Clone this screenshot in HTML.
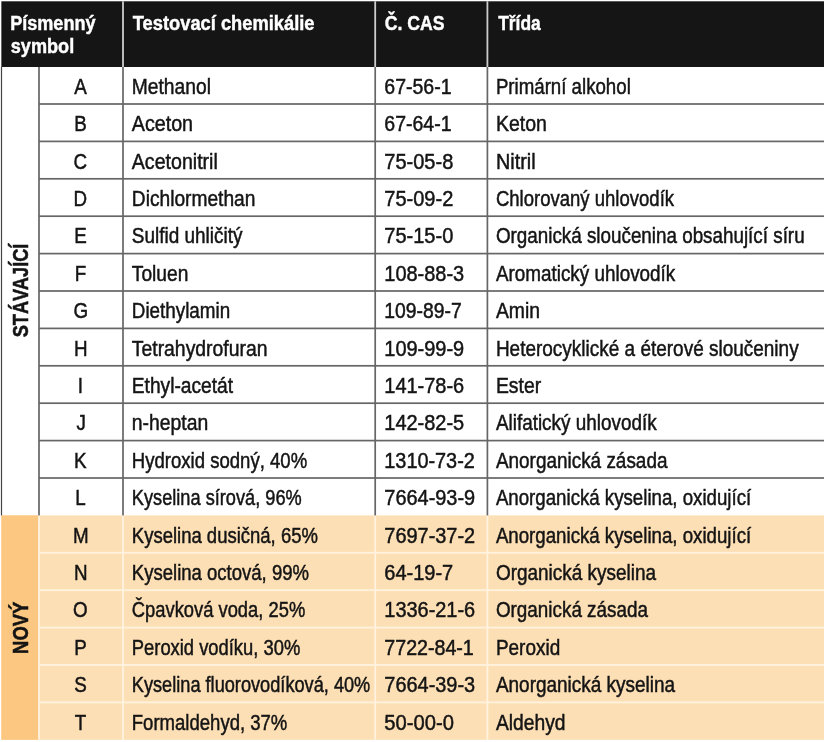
<!DOCTYPE html><html><head><meta charset="utf-8"><style>html,body{margin:0;padding:0;background:#fff;width:825px;height:742px;overflow:hidden}</style></head><body><svg width="825" height="742" viewBox="0 0 825 742" style="display:block;will-change:transform">
<rect x="0" y="0" width="825" height="742" fill="#fff"/>
<rect x="1.35" y="1.3" width="822.65" height="65.7" fill="#151515"/>
<rect x="122.1" y="1.3" width="1.8" height="65.7" fill="#cccccc"/>
<rect x="374.3" y="1.3" width="1.8" height="65.7" fill="#cccccc"/>
<rect x="486.5" y="1.3" width="1.8" height="65.7" fill="#cccccc"/>
<rect x="1.35" y="515.40" width="822.65" height="224.40" fill="#fddfb5"/>
<rect x="1.35" y="515.40" width="37.65" height="224.40" fill="#fcc780"/>
<rect x="38.1" y="515.40" width="1.8" height="224.40" fill="#fff3e0"/>
<rect x="122.1" y="515.40" width="1.8" height="224.40" fill="#fff3e0"/>
<rect x="374.3" y="515.40" width="1.8" height="224.40" fill="#fff3e0"/>
<rect x="486.5" y="515.40" width="1.8" height="224.40" fill="#fff3e0"/>
<rect x="39" y="551.90" width="785" height="1.8" fill="#fff3e0"/>
<rect x="39" y="589.30" width="785" height="1.8" fill="#fff3e0"/>
<rect x="39" y="626.70" width="785" height="1.8" fill="#fff3e0"/>
<rect x="39" y="664.10" width="785" height="1.8" fill="#fff3e0"/>
<rect x="39" y="701.50" width="785" height="1.8" fill="#fff3e0"/>
<rect x="39" y="103.15" width="785" height="1.7" fill="#666666"/>
<rect x="39" y="140.55" width="785" height="1.7" fill="#666666"/>
<rect x="39" y="177.95" width="785" height="1.7" fill="#666666"/>
<rect x="39" y="215.35" width="785" height="1.7" fill="#666666"/>
<rect x="39" y="252.75" width="785" height="1.7" fill="#666666"/>
<rect x="39" y="290.15" width="785" height="1.7" fill="#666666"/>
<rect x="39" y="327.55" width="785" height="1.7" fill="#666666"/>
<rect x="39" y="364.95" width="785" height="1.7" fill="#666666"/>
<rect x="39" y="402.35" width="785" height="1.7" fill="#666666"/>
<rect x="39" y="439.75" width="785" height="1.7" fill="#666666"/>
<rect x="39" y="477.15" width="785" height="1.7" fill="#666666"/>
<rect x="38.15" y="67" width="1.7" height="448.40" fill="#666666"/>
<rect x="122.15" y="67" width="1.7" height="448.40" fill="#666666"/>
<rect x="374.34999999999997" y="67" width="1.7" height="448.40" fill="#666666"/>
<rect x="486.54999999999995" y="67" width="1.7" height="448.40" fill="#666666"/>
<rect x="0.9" y="67" width="1.2" height="448.40" fill="#444444"/>
<text transform="translate(74.30,93.70) scale(0.8400,1)" font-family="Liberation Sans" font-size="22.4" font-weight="400" fill="#141414" stroke="#141414" stroke-width="0.5" text-anchor="start">A</text>
<text transform="translate(131.80,93.70) scale(0.8592,1)" font-family="Liberation Sans" font-size="22.4" font-weight="400" fill="#141414" stroke="#141414" stroke-width="0.5" text-anchor="start">Methanol</text>
<text transform="translate(384.30,93.70) scale(0.8720,1)" font-family="Liberation Sans" font-size="22.4" font-weight="400" fill="#141414" stroke="#141414" stroke-width="0.5" text-anchor="start">67-56-1</text>
<text transform="translate(495.90,93.70) scale(0.8340,1)" font-family="Liberation Sans" font-size="22.4" font-weight="400" fill="#141414" stroke="#141414" stroke-width="0.5" text-anchor="start">Primární alkohol</text>
<text transform="translate(74.30,131.10) scale(0.8400,1)" font-family="Liberation Sans" font-size="22.4" font-weight="400" fill="#141414" stroke="#141414" stroke-width="0.5" text-anchor="start">B</text>
<text transform="translate(131.80,131.10) scale(0.8790,1)" font-family="Liberation Sans" font-size="22.4" font-weight="400" fill="#141414" stroke="#141414" stroke-width="0.5" text-anchor="start">Aceton</text>
<text transform="translate(384.30,131.10) scale(0.8720,1)" font-family="Liberation Sans" font-size="22.4" font-weight="400" fill="#141414" stroke="#141414" stroke-width="0.5" text-anchor="start">67-64-1</text>
<text transform="translate(495.90,131.10) scale(0.8710,1)" font-family="Liberation Sans" font-size="22.4" font-weight="400" fill="#141414" stroke="#141414" stroke-width="0.5" text-anchor="start">Keton</text>
<text transform="translate(73.46,168.50) scale(0.8400,1)" font-family="Liberation Sans" font-size="22.4" font-weight="400" fill="#141414" stroke="#141414" stroke-width="0.5" text-anchor="start">C</text>
<text transform="translate(131.80,168.50) scale(0.8753,1)" font-family="Liberation Sans" font-size="22.4" font-weight="400" fill="#141414" stroke="#141414" stroke-width="0.5" text-anchor="start">Acetonitril</text>
<text transform="translate(384.30,168.50) scale(0.8941,1)" font-family="Liberation Sans" font-size="22.4" font-weight="400" fill="#141414" stroke="#141414" stroke-width="0.5" text-anchor="start">75-05-8</text>
<text transform="translate(495.90,168.50) scale(0.8859,1)" font-family="Liberation Sans" font-size="22.4" font-weight="400" fill="#141414" stroke="#141414" stroke-width="0.5" text-anchor="start">Nitril</text>
<text transform="translate(73.46,205.90) scale(0.8400,1)" font-family="Liberation Sans" font-size="22.4" font-weight="400" fill="#141414" stroke="#141414" stroke-width="0.5" text-anchor="start">D</text>
<text transform="translate(131.80,205.90) scale(0.8565,1)" font-family="Liberation Sans" font-size="22.4" font-weight="400" fill="#141414" stroke="#141414" stroke-width="0.5" text-anchor="start">Dichlormethan</text>
<text transform="translate(384.30,205.90) scale(0.8941,1)" font-family="Liberation Sans" font-size="22.4" font-weight="400" fill="#141414" stroke="#141414" stroke-width="0.5" text-anchor="start">75-09-2</text>
<text transform="translate(495.90,205.90) scale(0.8277,1)" font-family="Liberation Sans" font-size="22.4" font-weight="400" fill="#141414" stroke="#141414" stroke-width="0.5" text-anchor="start">Chlorovaný uhlovodík</text>
<text transform="translate(74.30,243.30) scale(0.8400,1)" font-family="Liberation Sans" font-size="22.4" font-weight="400" fill="#141414" stroke="#141414" stroke-width="0.5" text-anchor="start">E</text>
<text transform="translate(131.80,243.30) scale(0.8473,1)" font-family="Liberation Sans" font-size="22.4" font-weight="400" fill="#141414" stroke="#141414" stroke-width="0.5" text-anchor="start">Sulfid uhličitý</text>
<text transform="translate(384.30,243.30) scale(0.8941,1)" font-family="Liberation Sans" font-size="22.4" font-weight="400" fill="#141414" stroke="#141414" stroke-width="0.5" text-anchor="start">75-15-0</text>
<text transform="translate(495.90,243.30) scale(0.8406,1)" font-family="Liberation Sans" font-size="22.4" font-weight="400" fill="#141414" stroke="#141414" stroke-width="0.5" text-anchor="start">Organická sloučenina obsahující síru</text>
<text transform="translate(74.72,280.70) scale(0.8400,1)" font-family="Liberation Sans" font-size="22.4" font-weight="400" fill="#141414" stroke="#141414" stroke-width="0.5" text-anchor="start">F</text>
<text transform="translate(131.80,280.70) scale(0.8570,1)" font-family="Liberation Sans" font-size="22.4" font-weight="400" fill="#141414" stroke="#141414" stroke-width="0.5" text-anchor="start">Toluen</text>
<text transform="translate(384.30,280.70) scale(0.8915,1)" font-family="Liberation Sans" font-size="22.4" font-weight="400" fill="#141414" stroke="#141414" stroke-width="0.5" text-anchor="start">108-88-3</text>
<text transform="translate(495.90,280.70) scale(0.8432,1)" font-family="Liberation Sans" font-size="22.4" font-weight="400" fill="#141414" stroke="#141414" stroke-width="0.5" text-anchor="start">Aromatický uhlovodík</text>
<text transform="translate(73.46,318.10) scale(0.8400,1)" font-family="Liberation Sans" font-size="22.4" font-weight="400" fill="#141414" stroke="#141414" stroke-width="0.5" text-anchor="start">G</text>
<text transform="translate(131.80,318.10) scale(0.8414,1)" font-family="Liberation Sans" font-size="22.4" font-weight="400" fill="#141414" stroke="#141414" stroke-width="0.5" text-anchor="start">Diethylamin</text>
<text transform="translate(384.30,318.10) scale(0.8635,1)" font-family="Liberation Sans" font-size="22.4" font-weight="400" fill="#141414" stroke="#141414" stroke-width="0.5" text-anchor="start">109-89-7</text>
<text transform="translate(495.90,318.10) scale(0.8636,1)" font-family="Liberation Sans" font-size="22.4" font-weight="400" fill="#141414" stroke="#141414" stroke-width="0.5" text-anchor="start">Amin</text>
<text transform="translate(73.88,355.50) scale(0.8400,1)" font-family="Liberation Sans" font-size="22.4" font-weight="400" fill="#141414" stroke="#141414" stroke-width="0.5" text-anchor="start">H</text>
<text transform="translate(131.80,355.50) scale(0.8650,1)" font-family="Liberation Sans" font-size="22.4" font-weight="400" fill="#141414" stroke="#141414" stroke-width="0.5" text-anchor="start">Tetrahydrofuran</text>
<text transform="translate(384.30,355.50) scale(0.8915,1)" font-family="Liberation Sans" font-size="22.4" font-weight="400" fill="#141414" stroke="#141414" stroke-width="0.5" text-anchor="start">109-99-9</text>
<text transform="translate(495.90,355.50) scale(0.8478,1)" font-family="Liberation Sans" font-size="22.4" font-weight="400" fill="#141414" stroke="#141414" stroke-width="0.5" text-anchor="start">Heterocyklické a éterové sloučeniny</text>
<text transform="translate(77.66,392.90) scale(0.8400,1)" font-family="Liberation Sans" font-size="22.4" font-weight="400" fill="#141414" stroke="#141414" stroke-width="0.5" text-anchor="start">I</text>
<text transform="translate(131.80,392.90) scale(0.8562,1)" font-family="Liberation Sans" font-size="22.4" font-weight="400" fill="#141414" stroke="#141414" stroke-width="0.5" text-anchor="start">Ethyl-acetát</text>
<text transform="translate(384.30,392.90) scale(0.8915,1)" font-family="Liberation Sans" font-size="22.4" font-weight="400" fill="#141414" stroke="#141414" stroke-width="0.5" text-anchor="start">141-78-6</text>
<text transform="translate(495.90,392.90) scale(0.8655,1)" font-family="Liberation Sans" font-size="22.4" font-weight="400" fill="#141414" stroke="#141414" stroke-width="0.5" text-anchor="start">Ester</text>
<text transform="translate(76.40,430.30) scale(0.8400,1)" font-family="Liberation Sans" font-size="22.4" font-weight="400" fill="#141414" stroke="#141414" stroke-width="0.5" text-anchor="start">J</text>
<text transform="translate(131.80,430.30) scale(0.8638,1)" font-family="Liberation Sans" font-size="22.4" font-weight="400" fill="#141414" stroke="#141414" stroke-width="0.5" text-anchor="start">n-heptan</text>
<text transform="translate(384.30,430.30) scale(0.8915,1)" font-family="Liberation Sans" font-size="22.4" font-weight="400" fill="#141414" stroke="#141414" stroke-width="0.5" text-anchor="start">142-82-5</text>
<text transform="translate(495.90,430.30) scale(0.8441,1)" font-family="Liberation Sans" font-size="22.4" font-weight="400" fill="#141414" stroke="#141414" stroke-width="0.5" text-anchor="start">Alifatický uhlovodík</text>
<text transform="translate(73.88,467.70) scale(0.8400,1)" font-family="Liberation Sans" font-size="22.4" font-weight="400" fill="#141414" stroke="#141414" stroke-width="0.5" text-anchor="start">K</text>
<text transform="translate(131.80,467.70) scale(0.8287,1)" font-family="Liberation Sans" font-size="22.4" font-weight="400" fill="#141414" stroke="#141414" stroke-width="0.5" text-anchor="start">Hydroxid sodný, 40%</text>
<text transform="translate(384.30,467.70) scale(0.8866,1)" font-family="Liberation Sans" font-size="22.4" font-weight="400" fill="#141414" stroke="#141414" stroke-width="0.5" text-anchor="start">1310-73-2</text>
<text transform="translate(495.90,467.70) scale(0.8455,1)" font-family="Liberation Sans" font-size="22.4" font-weight="400" fill="#141414" stroke="#141414" stroke-width="0.5" text-anchor="start">Anorganická zásada</text>
<text transform="translate(75.14,505.10) scale(0.8400,1)" font-family="Liberation Sans" font-size="22.4" font-weight="400" fill="#141414" stroke="#141414" stroke-width="0.5" text-anchor="start">L</text>
<text transform="translate(131.80,505.10) scale(0.8127,1)" font-family="Liberation Sans" font-size="22.4" font-weight="400" fill="#141414" stroke="#141414" stroke-width="0.5" text-anchor="start">Kyselina sírová, 96%</text>
<text transform="translate(384.30,505.10) scale(0.8905,1)" font-family="Liberation Sans" font-size="22.4" font-weight="400" fill="#141414" stroke="#141414" stroke-width="0.5" text-anchor="start">7664-93-9</text>
<text transform="translate(495.90,505.10) scale(0.8340,1)" font-family="Liberation Sans" font-size="22.4" font-weight="400" fill="#141414" stroke="#141414" stroke-width="0.5" text-anchor="start">Anorganická kyselina, oxidující</text>
<text transform="translate(73.04,542.50) scale(0.8400,1)" font-family="Liberation Sans" font-size="22.4" font-weight="400" fill="#141414" stroke="#141414" stroke-width="0.5" text-anchor="start">M</text>
<text transform="translate(131.80,542.50) scale(0.8266,1)" font-family="Liberation Sans" font-size="22.4" font-weight="400" fill="#141414" stroke="#141414" stroke-width="0.5" text-anchor="start">Kyselina dusičná, 65%</text>
<text transform="translate(384.30,542.50) scale(0.8905,1)" font-family="Liberation Sans" font-size="22.4" font-weight="400" fill="#141414" stroke="#141414" stroke-width="0.5" text-anchor="start">7697-37-2</text>
<text transform="translate(495.90,542.50) scale(0.8340,1)" font-family="Liberation Sans" font-size="22.4" font-weight="400" fill="#141414" stroke="#141414" stroke-width="0.5" text-anchor="start">Anorganická kyselina, oxidující</text>
<text transform="translate(73.88,579.90) scale(0.8400,1)" font-family="Liberation Sans" font-size="22.4" font-weight="400" fill="#141414" stroke="#141414" stroke-width="0.5" text-anchor="start">N</text>
<text transform="translate(131.80,579.90) scale(0.8283,1)" font-family="Liberation Sans" font-size="22.4" font-weight="400" fill="#141414" stroke="#141414" stroke-width="0.5" text-anchor="start">Kyselina octová, 99%</text>
<text transform="translate(384.30,579.90) scale(0.8928,1)" font-family="Liberation Sans" font-size="22.4" font-weight="400" fill="#141414" stroke="#141414" stroke-width="0.5" text-anchor="start">64-19-7</text>
<text transform="translate(495.90,579.90) scale(0.8466,1)" font-family="Liberation Sans" font-size="22.4" font-weight="400" fill="#141414" stroke="#141414" stroke-width="0.5" text-anchor="start">Organická kyselina</text>
<text transform="translate(73.04,617.30) scale(0.8400,1)" font-family="Liberation Sans" font-size="22.4" font-weight="400" fill="#141414" stroke="#141414" stroke-width="0.5" text-anchor="start">O</text>
<text transform="translate(131.80,617.30) scale(0.8196,1)" font-family="Liberation Sans" font-size="22.4" font-weight="400" fill="#141414" stroke="#141414" stroke-width="0.5" text-anchor="start">Čpavková voda, 25%</text>
<text transform="translate(384.30,617.30) scale(0.8905,1)" font-family="Liberation Sans" font-size="22.4" font-weight="400" fill="#141414" stroke="#141414" stroke-width="0.5" text-anchor="start">1336-21-6</text>
<text transform="translate(495.90,617.30) scale(0.8425,1)" font-family="Liberation Sans" font-size="22.4" font-weight="400" fill="#141414" stroke="#141414" stroke-width="0.5" text-anchor="start">Organická zásada</text>
<text transform="translate(74.30,654.70) scale(0.8400,1)" font-family="Liberation Sans" font-size="22.4" font-weight="400" fill="#141414" stroke="#141414" stroke-width="0.5" text-anchor="start">P</text>
<text transform="translate(131.80,654.70) scale(0.8206,1)" font-family="Liberation Sans" font-size="22.4" font-weight="400" fill="#141414" stroke="#141414" stroke-width="0.5" text-anchor="start">Peroxid vodíku, 30%</text>
<text transform="translate(384.30,654.70) scale(0.8767,1)" font-family="Liberation Sans" font-size="22.4" font-weight="400" fill="#141414" stroke="#141414" stroke-width="0.5" text-anchor="start">7722-84-1</text>
<text transform="translate(495.90,654.70) scale(0.8467,1)" font-family="Liberation Sans" font-size="22.4" font-weight="400" fill="#141414" stroke="#141414" stroke-width="0.5" text-anchor="start">Peroxid</text>
<text transform="translate(74.30,692.10) scale(0.8400,1)" font-family="Liberation Sans" font-size="22.4" font-weight="400" fill="#141414" stroke="#141414" stroke-width="0.5" text-anchor="start">S</text>
<text transform="translate(131.80,692.10) scale(0.8120,1)" font-family="Liberation Sans" font-size="22.4" font-weight="400" fill="#141414" stroke="#141414" stroke-width="0.5" text-anchor="start">Kyselina fluorovodíková, 40%</text>
<text transform="translate(384.30,692.10) scale(0.8905,1)" font-family="Liberation Sans" font-size="22.4" font-weight="400" fill="#141414" stroke="#141414" stroke-width="0.5" text-anchor="start">7664-39-3</text>
<text transform="translate(495.90,692.10) scale(0.8471,1)" font-family="Liberation Sans" font-size="22.4" font-weight="400" fill="#141414" stroke="#141414" stroke-width="0.5" text-anchor="start">Anorganická kyselina</text>
<text transform="translate(74.72,729.50) scale(0.8400,1)" font-family="Liberation Sans" font-size="22.4" font-weight="400" fill="#141414" stroke="#141414" stroke-width="0.5" text-anchor="start">T</text>
<text transform="translate(131.80,729.50) scale(0.8281,1)" font-family="Liberation Sans" font-size="22.4" font-weight="400" fill="#141414" stroke="#141414" stroke-width="0.5" text-anchor="start">Formaldehyd, 37%</text>
<text transform="translate(384.30,729.50) scale(0.9019,1)" font-family="Liberation Sans" font-size="22.4" font-weight="400" fill="#141414" stroke="#141414" stroke-width="0.5" text-anchor="start">50-00-0</text>
<text transform="translate(495.90,729.50) scale(0.8600,1)" font-family="Liberation Sans" font-size="22.4" font-weight="400" fill="#141414" stroke="#141414" stroke-width="0.5" text-anchor="start">Aldehyd</text>
<text transform="translate(10.14,30.40) scale(0.8617,1)" font-family="Liberation Sans" font-size="21" font-weight="700" fill="#fff" stroke="#fff" stroke-width="0.45" text-anchor="start">Písmenný</text>
<text transform="translate(10.80,52.60) scale(0.8626,1)" font-family="Liberation Sans" font-size="21" font-weight="700" fill="#fff" stroke="#fff" stroke-width="0.45" text-anchor="start">symbol</text>
<text transform="translate(132.80,30.40) scale(0.8717,1)" font-family="Liberation Sans" font-size="21" font-weight="700" fill="#fff" stroke="#fff" stroke-width="0.45" text-anchor="start">Testovací chemikálie</text>
<text transform="translate(384.70,30.40) scale(0.8403,1)" font-family="Liberation Sans" font-size="21" font-weight="700" fill="#fff" stroke="#fff" stroke-width="0.45" text-anchor="start">Č. CAS</text>
<text transform="translate(498.20,30.40) scale(0.8285,1)" font-family="Liberation Sans" font-size="21" font-weight="700" fill="#fff" stroke="#fff" stroke-width="0.45" text-anchor="start">Třída</text>
<text transform="translate(28.10,337.30) rotate(-90) scale(0.8313,1)" font-family="Liberation Sans" font-size="21.9" font-weight="700" fill="#141414" stroke="#141414" stroke-width="0.55" text-anchor="start">STÁVAJÍCÍ</text>
<text transform="translate(28.10,653.94) rotate(-90) scale(0.8431,1)" font-family="Liberation Sans" font-size="21.9" font-weight="700" fill="#141414" stroke="#141414" stroke-width="0.55" text-anchor="start">NOVÝ</text>
</svg></body></html>
